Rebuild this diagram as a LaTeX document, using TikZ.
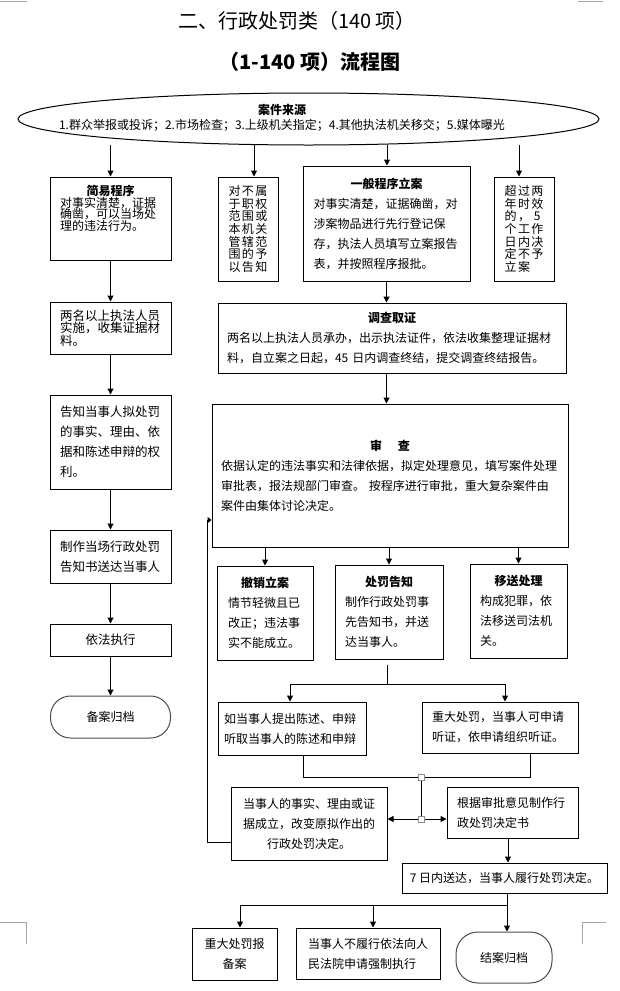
\documentclass[tikz,border=0pt]{standalone}
\usepackage{fontspec}
\setmainfont{Noto Sans CJK SC}
\usetikzlibrary{arrows.meta,shapes.geometric}
\setlength{\parindent}{0pt}
\newcommand\ctitle[1]{{\centering\bfseries #1\par}}
\newcommand\tri[3]{\makebox[13.3pt]{#1}\makebox[13.3pt]{#2}\makebox[13.3pt]{#3}}
\tikzset{
  box/.style={draw, line width=1pt, inner sep=0pt, align=left, font=\fontsize{12}{20}\selectfont},
  term/.style={draw=black!70, line width=1pt, rounded corners=20pt, inner sep=0pt, font=\fontsize{12}{20}\selectfont},
  ln/.style={line width=1pt},
  arr/.style={ln, -{Triangle[length=6pt,width=6pt]}},
  sq/.style={draw=black!45, fill=white, line width=0.8pt, minimum size=6pt, inner sep=0pt},
  crn/.style={draw=black!35, line width=1pt},
}
\begin{document}
\begin{tikzpicture}[x=1pt,y=-1pt]
\useasboundingbox (0,0) rectangle (620,991);
% corner marks
\draw[crn] (0,1.5) -- (27,1.5);
\draw[crn] (578,1.5) -- (603,1.5);
\draw[crn] (0,922) -- (26,922) -- (26,944);
\draw[crn] (606,922) -- (582,922) -- (582,944);
% titles
\node[font=\fontsize{20}{20}\selectfont] (t1) at (297,21) {二、行政处罚类（140 项）};
\node[font=\fontsize{20}{20}\selectfont\bfseries] (t2) at (310,62) {（1-140 项）流程图};
% source
\node[draw, ellipse, line width=1pt, minimum width=581pt, minimum height=52pt, inner sep=0pt] (src) at (308.5,119) {};
\node[font=\fontsize{12}{15}\selectfont, align=center, inner sep=0pt] (srct) at (282,118) {\textbf{案件来源}\\1.群众举报或投诉；2.市场检查；3.上级机关指定；4.其他执法机关移交；5.媒体曝光};
% left column
\node[box, minimum width=121pt, minimum height=83pt] (jy) at (110.5,218.5) {};
\node[align=left, text width=101pt, inner sep=0pt, anchor=north, font=\fontsize{12}{11.5}\selectfont] (jyt) at (110.5,185) {\ctitle{简易程序}对事实清楚，证据\\确凿，可以当场处\\理的违法行为。};
\node[box, minimum width=121pt, minimum height=52pt, text width=101pt, font=\fontsize{12.5}{12.5}\selectfont] (lm) at (110.5,328) {两名以上执法人员\\实施，收集证据材\\料。};
\node[box, minimum width=121pt, minimum height=94pt, text width=101pt, font=\fontsize{12.5}{20}\selectfont] (gz) at (110.5,442) {告知当事人拟处罚\\的事实、理由、依\\据和陈述申辩的权\\利。};
\node[box, minimum width=121pt, minimum height=53pt, text width=101pt, font=\fontsize{12.5}{20}\selectfont] (zz) at (110.5,556.5) {制作当场行政处罚\\告知书送达当事人};
\node[box, minimum width=121pt, minimum height=32pt, font=\fontsize{12.5}{20}\selectfont] (yf) at (110.5,640) {依法执行};
\node[term, minimum width=120pt, minimum height=42pt] (ba) at (110.5,717) {备案归档};
% branches
\node[box, minimum width=60pt, minimum height=104pt, font=\fontsize{12}{12.6}\selectfont] (bs) at (248,229) {\tri{对}{不}{属}\\\tri{于}{职}{权}\\\tri{范}{围}{或}\\\tri{本}{机}{关}\\\tri{管}{辖}{范}\\\tri{围}{的}{予}\\\tri{以}{告}{知}};
\node[box, minimum width=167pt, minimum height=115pt, text width=146pt] (yb) at (386.5,223.5) {\ctitle{一般程序立案}对事实清楚，证据确凿，对\\涉案物品进行先行登记保\\存，执法人员填写立案报告\\表，并按照程序报批。};
\node[box, minimum width=60pt, minimum height=104pt, font=\fontsize{12}{12.6}\selectfont] (cg) at (524,229) {\tri{超}{过}{两}\\\tri{年}{时}{效}\\\tri{的}{，}{5}\\\tri{个}{工}{作}\\\tri{日}{内}{决}\\\tri{定}{不}{予}\\\tri{立}{案}{}};
\node[box, minimum width=348pt, minimum height=70pt, text width=330pt] (dc) at (392,338) {\ctitle{调查取证}两名以上执法人员承办，出示执法证件，依法收集整理证据材\\料，自立案之日起，45 日内调查终结，提交调查终结报告。};
\node[box, minimum width=356pt, minimum height=143pt, text width=338pt] (sc) at (390,475.5) {\ctitle{审\hspace{16pt}查}依据认定的违法事实和法律依据，拟定处理意见，填写案件处理\\审批表，报法规部门审查。 按程序进行审批，重大复杂案件由\\案件由集体讨论决定。};
\node[box, minimum width=96pt, minimum height=94pt, text width=74pt] (cx) at (265,613) {\ctitle{撤销立案}情节轻微且已\\改正；违法事\\实不能成立。};
\node[box, minimum width=108pt, minimum height=94pt, text width=88pt] (cf) at (389,612) {\ctitle{处罚告知}制作行政处罚事\\先告知书，并送\\达当事人。};
\node[box, minimum width=97pt, minimum height=94pt, text width=77pt] (ys) at (518.5,611) {\ctitle{移送处理}构成犯罪，依\\法移送司法机\\关。};
\node[box, minimum width=148pt, minimum height=53pt, text width=136pt] (rd) at (292,728.5) {如当事人提出陈述、申辩\\听取当事人的陈述和申辩};
\node[box, minimum width=156pt, minimum height=51pt, text width=136pt] (zd) at (500,727.5) {重大处罚，当事人可申请\\听证，依申请组织听证。};
\node[box, minimum width=156pt, minimum height=73pt, text width=140pt, align=center] (gb) at (309,823.5) {当事人的事实、理由或证\\据成立，改变原拟作出的\\行政处罚决定。};
\node[box, minimum width=131pt, minimum height=51pt, text width=111pt] (gs) at (512.5,812.5) {根据审批意见制作行\\政处罚决定书};
\node[box, minimum width=205pt, minimum height=30pt] (qr) at (504.5,878) {7 日内送达，当事人履行处罚决定。};
\node[box, minimum width=85pt, minimum height=52pt, align=center] (zb) at (234.5,954) {重大处罚报\\备案};
\node[box, minimum width=144pt, minimum height=51pt] (bl) at (368,953.5) {当事人不履行依法向人\\民法院申请强制执行};
\node[term, minimum width=96pt, minimum height=51pt, rounded corners=22pt] (ja) at (504,957.5) {结案归档};
% connectors from source
\coordinate (s1) at (110.5,145);
\coordinate (s2) at (254,145);
\coordinate (s3) at (387,145);
\coordinate (s4) at (519,145);
\draw[arr] (s1) -- (jy.north);
\draw[arr] (s2) -- (s2 |- bs.north);
\draw[arr] (s3) -- (s3 |- yb.north);
\draw[arr] (s4) -- (s4 |- cg.north);
% left chain
\draw[arr] (jy.south) -- (lm.north);
\draw[arr] (lm.south) -- (gz.north);
\draw[arr] (gz.south) -- (zz.north);
\draw[arr] (zz.south) -- (yf.north);
\draw[arr] (yf.south) -- (ba.north);
% middle chain
\draw[arr] (yb.south) -- (yb.south |- dc.north);
\draw[arr] (yb.south |- dc.south) -- (yb.south |- sc.north);
\draw[arr] (sc.south -| cx.north) -- (cx.north);
\draw[arr] (sc.south -| cf.north) -- (cf.north);
\draw[arr] (sc.south -| ys.north) -- (ys.north);
% fork
\coordinate (fk) at (387,684);
\coordinate (fl) at (290,684);
\coordinate (fr) at (505,684);
\draw[ln, shorten <=5pt] (cf.south -| fk) -- (fk);
\draw[ln] (fl) -- (fr);
\draw[arr] (fl) -- (fl |- rd.north);
\draw[arr] (fr) -- (fr |- zd.north);
% merge
\coordinate (ml) at (303,777);
\coordinate (mr) at (530,777);
\coordinate (j1) at (421,777);
\coordinate (j2) at (421,819);
\draw[ln] (ml |- rd.south) -- (ml) -- (mr) -- (mr |- zd.south);
\draw[ln] (j1) -- (j2);
\draw[arr] (j2) -- (j2 -| gb.east);
\draw[arr] (j2) -- (j2 -| gs.west);
\node[sq] (sq1) at (j1) {};
\node[sq] (sq2) at (j2) {};
% feedback
\coordinate (fb1) at (207,842);
\coordinate (fb2) at (207,520);
\draw[ln, -{Triangle[length=4pt,width=6pt]}] (gb.west |- fb1) -- (fb1) -- (fb2) -- (fb2 -| sc.west);
% to final
\draw[arr] ([xshift=-4.5pt]gs.south) -- ([xshift=-4.5pt]gs.south |- qr.north);
\coordinate (bq) at (507,905);
\coordinate (b1) at (240,905);
\coordinate (b2) at (373,905);
\draw[arr] (bq |- qr.south) -- (bq |- ja.north);
\draw[ln] (b1) -- (bq);
\draw[arr] (b1) -- (b1 |- zb.north);
\draw[arr] (b2) -- (b2 |- bl.north);
\end{tikzpicture}
\end{document}
